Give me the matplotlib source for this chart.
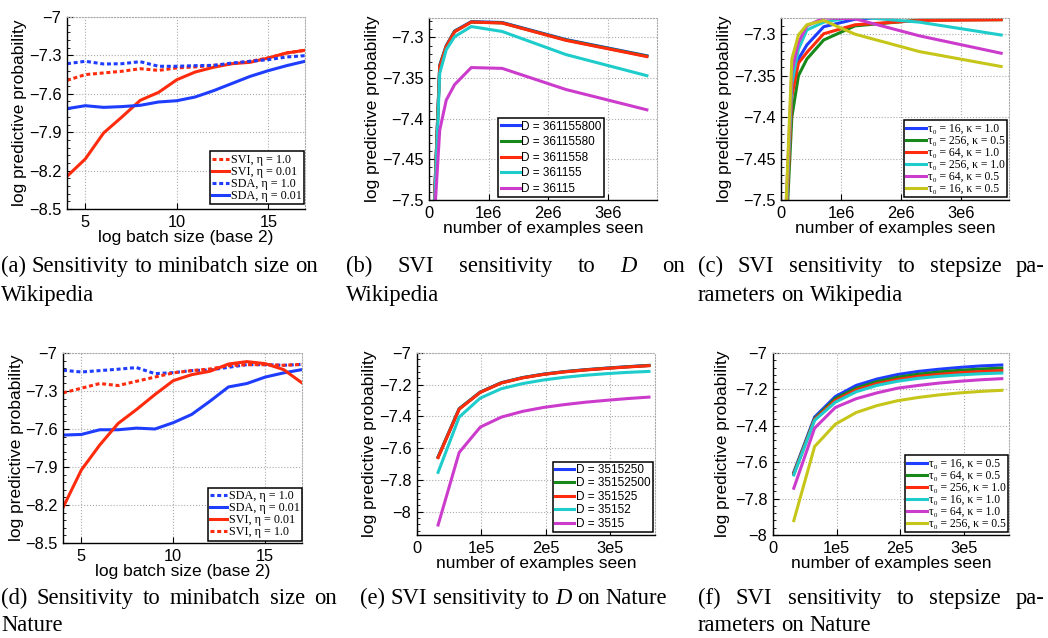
import numpy as np
import matplotlib
matplotlib.use("Agg")
import matplotlib.pyplot as plt
from matplotlib.ticker import FuncFormatter, AutoMinorLocator

plt.rcParams['font.family'] = ['Liberation Sans', 'DejaVu Sans']

W, H = 1048, 638

# ---- data: minibatch sensitivity (log2 batch size) ----
batch_log = [4, 5, 6, 7, 8, 9, 10, 11, 12, 13, 14, 15, 16, 17]

wiki_svi_eta1 = [-7.495, -7.45, -7.437, -7.424, -7.404, -7.417, -7.398, -7.39, -7.378, -7.365, -7.346, -7.32, -7.281, -7.26]
wiki_svi_eta001 = [-8.245, -8.109, -7.906, -7.781, -7.651, -7.589, -7.49, -7.43, -7.393, -7.365, -7.354, -7.32, -7.281, -7.26]
wiki_sda_eta1 = [-7.365, -7.346, -7.367, -7.365, -7.349, -7.385, -7.385, -7.38, -7.378, -7.36, -7.346, -7.333, -7.3125, -7.302]
wiki_sda_eta001 = [-7.716, -7.693, -7.706, -7.70, -7.69, -7.664, -7.654, -7.625, -7.576, -7.52, -7.464, -7.419, -7.38, -7.346]

nat_sda_eta1 = [-7.136, -7.15, -7.139, -7.128, -7.115, -7.163, -7.155, -7.139, -7.134, -7.113, -7.092, -7.092, -7.097, -7.09]
nat_sda_eta001 = [-7.648, -7.643, -7.606, -7.606, -7.593, -7.60, -7.55, -7.485, -7.38, -7.268, -7.241, -7.19, -7.157, -7.131]
nat_svi_eta001 = [-8.22, -7.923, -7.726, -7.556, -7.446, -7.328, -7.218, -7.171, -7.144, -7.087, -7.068, -7.084, -7.131, -7.236]
nat_svi_eta1 = [-7.315, -7.278, -7.241, -7.257, -7.223, -7.19, -7.157, -7.139, -7.126, -7.1, -7.092, -7.092, -7.097, -7.09]

# ---- data: Wikipedia, number of examples seen ----
wiki_seen = [0.06e6, 0.18e6, 0.29e6, 0.43e6, 0.71e6, 1.23e6, 2.3e6, 3.66e6]

wiki_D_labels = ["D = 361155800", "D = 36115580", "D = 3611558", "D = 361155", "D = 36115"]
wiki_D_vals = [
    [-7.56, -7.334, -7.310, -7.292, -7.2805, -7.2815, -7.3025, -7.3225],
    [-7.56, -7.335, -7.3105, -7.2925, -7.281, -7.282, -7.303, -7.323],
    [-7.56, -7.336, -7.311, -7.293, -7.281, -7.2822, -7.3035, -7.3235],
    [-7.57, -7.344, -7.315, -7.299, -7.2865, -7.2926, -7.321, -7.347],
    [-7.56, -7.414, -7.377, -7.358, -7.337, -7.338, -7.364, -7.389],
]

wiki_step_labels = ["τ₀ = 16, κ = 1.0", "τ₀ = 256, κ = 0.5", "τ₀ = 64, κ = 1.0",
                    "τ₀ = 256, κ = 1.0", "τ₀ = 64, κ = 0.5", "τ₀ = 16, κ = 0.5"]
wiki_step_vals = [
    [-7.56, -7.37, -7.33, -7.313, -7.291, -7.282, -7.277, -7.276],
    [-7.58, -7.40, -7.35, -7.33, -7.307, -7.29, -7.283, -7.2825],
    [-7.57, -7.375, -7.335, -7.322, -7.2995, -7.2887, -7.2835, -7.2826],
    [-7.56, -7.36, -7.318, -7.295, -7.2855, -7.279, -7.2855, -7.301],
    [-7.55, -7.345, -7.31, -7.290, -7.2805, -7.2815, -7.302, -7.323],
    [-7.55, -7.33, -7.301, -7.2887, -7.2835, -7.300, -7.321, -7.339],
]

# ---- data: Nature, number of examples seen ----
nat_seen = [0.327e5, 0.654e5, 0.981e5, 1.308e5, 1.635e5, 1.962e5, 2.289e5, 2.616e5, 2.943e5, 3.27e5, 3.597e5]

nat_D_labels = ["D = 3515250", "D = 35152500", "D = 351525", "D = 35152", "D = 3515"]
nat_D_vals = [
    [-7.655, -7.351, -7.246, -7.187, -7.155, -7.133, -7.117, -7.105, -7.095, -7.086, -7.078],
    [-7.657, -7.352, -7.247, -7.188, -7.156, -7.134, -7.118, -7.106, -7.096, -7.087, -7.079],
    [-7.659, -7.354, -7.248, -7.189, -7.157, -7.135, -7.119, -7.107, -7.097, -7.088, -7.080],
    [-7.752, -7.404, -7.284, -7.225, -7.193, -7.170, -7.153, -7.140, -7.130, -7.122, -7.116],
    [-8.084, -7.627, -7.467, -7.404, -7.368, -7.343, -7.325, -7.310, -7.298, -7.287, -7.278],
]

nat_step_labels = ["τ₀ = 16, κ = 0.5", "τ₀ = 64, κ = 0.5", "τ₀ = 256, κ = 1.0",
                   "τ₀ = 16, κ = 1.0", "τ₀ = 64, κ = 1.0", "τ₀ = 256, κ = 0.5"]
nat_step_vals = [
    [-7.655, -7.352, -7.239, -7.178, -7.143, -7.118, -7.101, -7.089, -7.079, -7.071, -7.066],
    [-7.66, -7.36, -7.25, -7.193, -7.157, -7.133, -7.116, -7.104, -7.095, -7.088, -7.083],
    [-7.665, -7.365, -7.26, -7.203, -7.168, -7.145, -7.128, -7.117, -7.108, -7.102, -7.097],
    [-7.67, -7.37, -7.27, -7.213, -7.178, -7.155, -7.139, -7.128, -7.12, -7.114, -7.11],
    [-7.743, -7.413, -7.299, -7.251, -7.219, -7.193, -7.178, -7.165, -7.155, -7.147, -7.141],
    [-7.921, -7.514, -7.391, -7.327, -7.289, -7.262, -7.244, -7.23, -7.219, -7.211, -7.205],
]

BLUE = "#1f3dff"
RED = "#ff2b0d"
GREEN = "#16891a"
CYAN = "#1fcccc"
MAGENTA = "#cc3ccc"
YELLOW = "#c6c61a"
D_COLORS = [BLUE, GREEN, RED, CYAN, MAGENTA]
STEP_COLORS = [BLUE, GREEN, RED, CYAN, MAGENTA, YELLOW]

LW = 2.2
DASH = (0, (1.3, 0.9))
SERIF = ["Liberation Serif", "DejaVu Serif"]

fig = plt.figure(figsize=(W / 100, H / 100), dpi=100)


def make_axes(l, t, r, b):
    return fig.add_axes([l / W, 1 - b / H, (r - l) / W, (b - t) / H])


def g_fmt(v, pos):
    return ("%g" % v).replace("-", "\u2212")


def e_fmt(exp):
    def f(v, pos):
        if abs(v) < 1e-9:
            return "0"
        return "%de%d" % (round(v / 10 ** exp), exp)
    return f


def style(ax, xlabel, ylab_px):
    for s in ["left", "bottom"]:
        ax.spines[s].set_linewidth(1.0)
        ax.spines[s].set_color("black")
    for s in ["top", "right"]:
        ax.spines[s].set_linestyle(":")
        ax.spines[s].set_color("#aaaaaa")
        ax.spines[s].set_linewidth(0.8)
    ax.grid(True, linestyle=":", color="#aaaaaa", linewidth=0.8)
    ax.set_axisbelow(True)
    ax.tick_params(direction="in", length=4, width=0.8, labelsize=11.8, pad=4,
                   top=False, right=False)
    ax.yaxis.set_minor_locator(AutoMinorLocator(5))
    ax.tick_params(which="minor", direction="in", length=2, width=0.6, left=True, bottom=False)
    ax.yaxis.set_major_formatter(FuncFormatter(g_fmt))
    ax.set_ylabel("log predictive probability", fontsize=12.5)
    ax.set_xlabel(xlabel, fontsize=12.5, labelpad=0)
    ax.yaxis.set_label_coords(ylab_px, 0.5)


def legend(ax, anchor, fs, spacing, hl, serif=False):
    prop = {"size": fs}
    if serif:
        prop["family"] = SERIF
    leg = ax.legend(loc="lower right", bbox_to_anchor=anchor, prop=prop, labelspacing=spacing,
                    handlelength=hl, handletextpad=0.15, borderpad=0.2, borderaxespad=0.0,
                    fancybox=False, framealpha=1, edgecolor="black")
    leg.get_frame().set_linewidth(1.1)
    return leg


# ---- (a) ----
ax = make_axes(67, 17, 305, 209)
ax.plot(batch_log, wiki_svi_eta1, color=RED, lw=LW, ls=DASH, label="SVI, η = 1.0")
ax.plot(batch_log, wiki_svi_eta001, color=RED, lw=LW, label="SVI, η = 0.01")
ax.plot(batch_log, wiki_sda_eta1, color=BLUE, lw=LW, ls=DASH, label="SDA, η = 1.0")
ax.plot(batch_log, wiki_sda_eta001, color=BLUE, lw=LW, label="SDA, η = 0.01")
ax.set_xlim(4, 17)
ax.set_ylim(-8.5, -7)
ax.set_yticks([-8.5, -8.2, -7.9, -7.6, -7.3, -7])
ax.set_xticks([5, 10, 15])
style(ax, "log batch size (base 2)", -0.168)
legend(ax, (0.997, 0.025), 8.7, 0.0, 1.4, serif=True)

# ---- (d) ----
ax = make_axes(63, 353, 302, 543)
ax.plot(batch_log, nat_sda_eta1, color=BLUE, lw=LW, ls=DASH, label="SDA, η = 1.0")
ax.plot(batch_log, nat_sda_eta001, color=BLUE, lw=LW, label="SDA, η = 0.01")
ax.plot(batch_log, nat_svi_eta001, color=RED, lw=LW, label="SVI, η = 0.01")
ax.plot(batch_log, nat_svi_eta1, color=RED, lw=LW, ls=DASH, label="SVI, η = 1.0")
ax.set_xlim(4, 17)
ax.set_ylim(-8.5, -7)
ax.set_yticks([-8.5, -8.2, -7.9, -7.6, -7.3, -7])
ax.set_xticks([5, 10, 15])
style(ax, "log batch size (base 2)", -0.163)
legend(ax, (1.0, 0.012), 8.7, 0.0, 1.4, serif=True)

# ---- (b) ----
ax = make_axes(429, 18, 657, 200)
for vals, lab, c in zip(wiki_D_vals, wiki_D_labels, D_COLORS):
    ax.plot(wiki_seen, vals, color=c, lw=LW, label=lab)
ax.set_xlim(0, 3.83e6)
ax.set_ylim(-7.5, -7.276)
ax.set_yticks([-7.5, -7.45, -7.4, -7.35, -7.3])
ax.set_xticks([0, 1e6, 2e6, 3e6])
ax.xaxis.set_major_formatter(FuncFormatter(e_fmt(6)))
style(ax, "number of examples seen", -0.215)
legend(ax, (0.768, 0.016), 8.5, 0.3, 1.6)

# ---- (c) ----
ax = make_axes(781, 18, 1009, 200)
for vals, lab, c in zip(wiki_step_vals, wiki_step_labels, STEP_COLORS):
    ax.plot(wiki_seen, vals, color=c, lw=LW, label=lab)
ax.set_xlim(0, 3.79e6)
ax.set_ylim(-7.5, -7.2805)
ax.set_yticks([-7.5, -7.45, -7.4, -7.35, -7.3])
ax.set_xticks([0, 1e6, 2e6, 3e6])
ax.xaxis.set_major_formatter(FuncFormatter(e_fmt(6)))
style(ax, "number of examples seen", -0.215)
legend(ax, (0.99, 0.016), 8.4, 0.0, 1.7, serif=True)

# ---- (e) ----
ax = make_axes(417, 353, 655, 535)
for vals, lab, c in zip(nat_D_vals, nat_D_labels, D_COLORS):
    ax.plot(nat_seen, vals, color=c, lw=LW, label=lab)
ax.set_xlim(0, 3.69e5)
ax.set_ylim(-8.147, -7)
ax.set_yticks([-8, -7.8, -7.6, -7.4, -7.2, -7])
ax.set_xticks([0, 1e5, 2e5, 3e5])
ax.xaxis.set_major_formatter(FuncFormatter(e_fmt(5)))
style(ax, "number of examples seen", -0.168)
legend(ax, (0.99, 0.016), 8.5, 0.12, 1.6)

# ---- (f) ----
ax = make_axes(773, 353, 1009, 535)
for vals, lab, c in zip(nat_step_vals, nat_step_labels, STEP_COLORS):
    ax.plot(nat_seen, vals, color=c, lw=LW, label=lab)
ax.set_xlim(0, 3.71e5)
ax.set_ylim(-8, -7)
ax.set_yticks([-8, -7.8, -7.6, -7.4, -7.2, -7])
ax.set_xticks([0, 1e5, 2e5, 3e5])
ax.xaxis.set_major_formatter(FuncFormatter(e_fmt(5)))
style(ax, "number of examples seen", -0.182)
legend(ax, (0.995, 0.016), 8.4, 0.0, 1.7, serif=True)

# ---- captions (justified like the paper) ----
CAP_FS = 16.3
renderer = fig.canvas.get_renderer()


def caption_line(words, x0, y, x1=None):
    texts = []
    for w in words:
        italic = w.startswith("*")
        t = fig.text(x0 / W, 1 - y / H, w.lstrip("*"), fontsize=CAP_FS, family=SERIF,
                     style="italic" if italic else "normal", va="baseline", ha="left")
        texts.append(t)
    widths = [t.get_window_extent(renderer).width for t in texts]
    space = fig.text(0, 0, "a a", fontsize=CAP_FS, family=SERIF)
    sp = space.get_window_extent(renderer).width
    space.set_text("aa")
    sp -= space.get_window_extent(renderer).width
    space.remove()
    gap = sp if x1 is None else (x1 - x0 - sum(widths)) / (len(words) - 1)
    x = x0
    for t, w in zip(texts, widths):
        t.set_x(x / W)
        x += w + gap


caption_line("(a) Sensitivity to minibatch size on".split(), 1, 272)
caption_line(["Wikipedia"], 1, 301)
caption_line(["(b)", "SVI", "sensitivity", "to", "*D", "on"], 346, 272, 685)
caption_line(["Wikipedia"], 346, 301)
caption_line("(c) SVI sensitivity to stepsize pa-".split(), 698, 272, 1045)
caption_line("rameters on Wikipedia".split(), 698, 301)
caption_line("(d) Sensitivity to minibatch size on".split(), 1, 604, 337)
caption_line(["Nature"], 1, 631)
caption_line(["(e)", "SVI", "sensitivity", "to", "*D", "on", "Nature"], 360, 604)
caption_line("(f) SVI sensitivity to stepsize pa-".split(), 698, 604, 1045)
caption_line("rameters on Nature".split(), 698, 631)

fig.savefig("out.png", dpi=100)
